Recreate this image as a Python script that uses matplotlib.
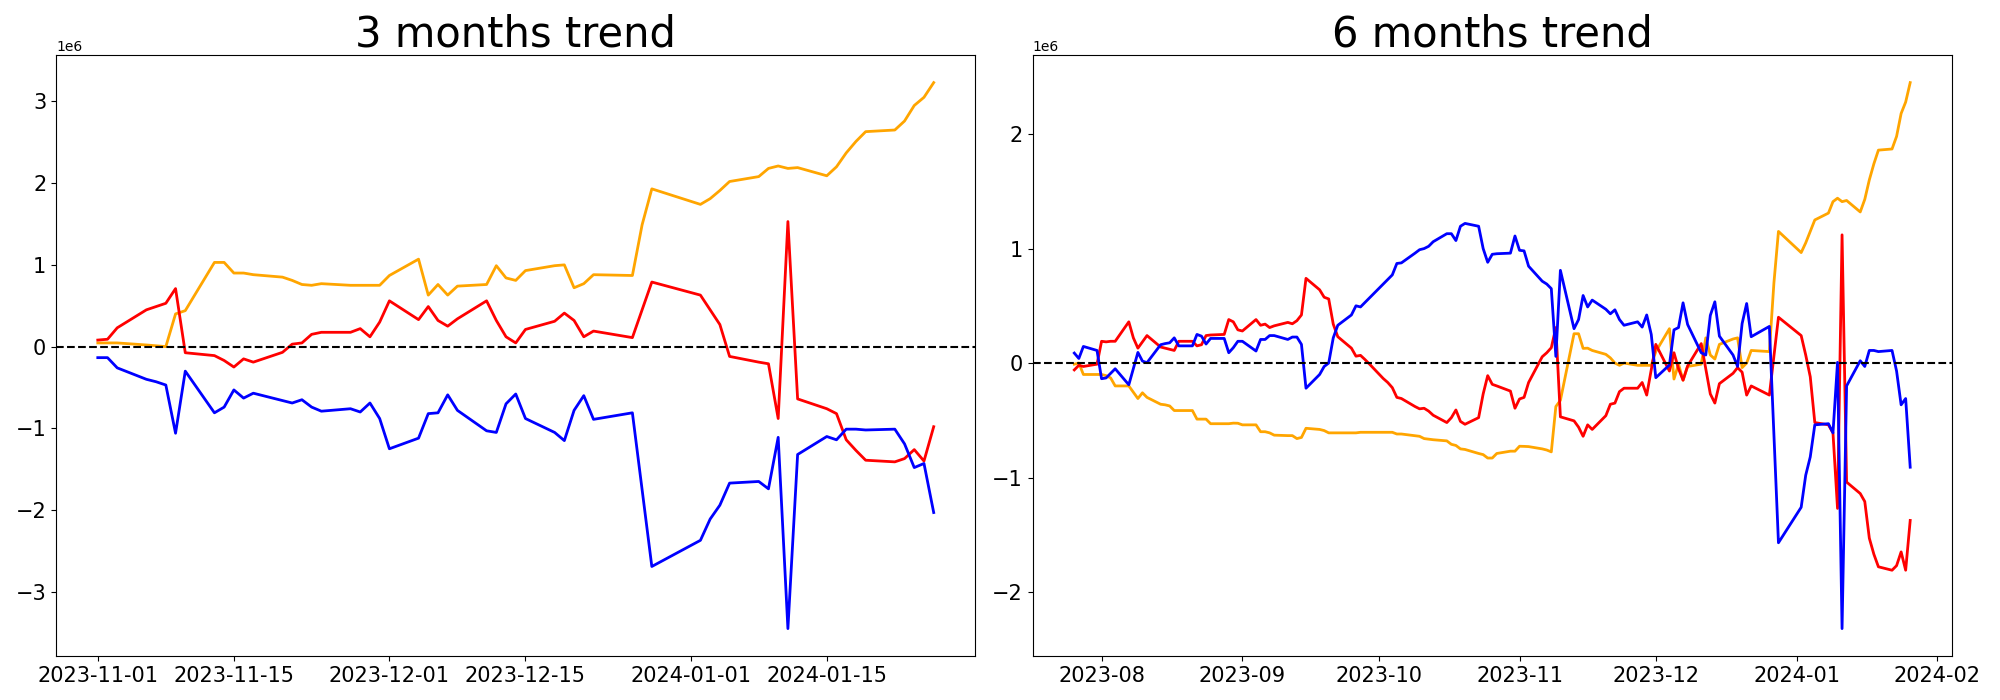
import matplotlib
matplotlib.use("Agg")
import matplotlib.pyplot as plt
import matplotlib.dates as mdates
import pandas as pd

# ---------------- data ----------------
holidays = ["2023-12-25", "2023-12-29", "2024-01-01"]

# 3 months (left)
left_start, left_end = "2023-11-01", "2024-01-26"
left_orange = [0.045, 0.045, 0.045, 0.02, 0.01, 0.0, 0.40, 0.44, 1.03, 1.03, 0.90, 0.90, 0.88,
               0.85, 0.81, 0.76, 0.75, 0.77, 0.75, 0.75, 0.75, 0.75, 0.87, 1.07, 0.63, 0.76, 0.63, 0.74,
               0.76, 0.99, 0.84, 0.81, 0.93, 0.99, 1.00, 0.72, 0.77, 0.88, 0.87, 1.49, 1.93,
               1.74, 1.81, 1.91, 2.02, 2.08, 2.18, 2.21, 2.18, 2.19, 2.09, 2.20, 2.37, 2.51, 2.63,
               2.65, 2.76, 2.95, 3.05, 3.23]
left_red = [0.08, 0.09, 0.23, 0.45, 0.49, 0.53, 0.71, -0.075, -0.11, -0.17, -0.25, -0.15, -0.19,
            -0.07, 0.03, 0.045, 0.15, 0.175, 0.175, 0.22, 0.12, 0.30, 0.56, 0.33, 0.49, 0.32, 0.25, 0.34,
            0.56, 0.32, 0.12, 0.045, 0.21, 0.31, 0.41, 0.32, 0.12, 0.19, 0.11, 0.45, 0.79,
            0.63, 0.45, 0.27, -0.12, -0.19, -0.21, -0.88, 1.53, -0.64, -0.76, -0.82, -1.14, -1.27, -1.39,
            -1.41, -1.37, -1.26, -1.40, -0.98]
left_blue = [-0.135, -0.135, -0.26, -0.40, -0.43, -0.47, -1.06, -0.30, -0.81, -0.74, -0.53, -0.63, -0.57,
             -0.66, -0.69, -0.65, -0.74, -0.79, -0.76, -0.80, -0.69, -0.88, -1.25, -1.12, -0.82, -0.81, -0.59, -0.78,
             -1.03, -1.05, -0.70, -0.58, -0.88, -1.05, -1.15, -0.78, -0.60, -0.89, -0.81, -1.75, -2.69,
             -2.37, -2.11, -1.94, -1.67, -1.65, -1.74, -1.11, -3.45, -1.32, -1.10, -1.14, -1.01, -1.01, -1.02,
             -1.01, -1.19, -1.48, -1.43, -2.03]

# 6 months (right)
right_start, right_end = "2023-07-26", "2024-01-26"
right_orange = [-0.01, 0.0, -0.10, -0.10,
                -0.10, -0.11, -0.13, -0.20,
                -0.20, -0.255, -0.31, -0.26, -0.30,
                -0.36, -0.365, -0.375, -0.415, -0.415,
                -0.415, -0.49, -0.49, -0.49, -0.53,
                -0.53, -0.53, -0.525, -0.526, -0.54,
                -0.54, -0.60, -0.60, -0.61, -0.63,
                -0.634, -0.634, -0.66, -0.65, -0.57,
                -0.58, -0.59, -0.61, -0.61, -0.61,
                -0.61, -0.61, -0.605, -0.605, -0.605,
                -0.605, -0.605, -0.605, -0.62, -0.62,
                -0.635, -0.64, -0.66, -0.665, -0.67,
                -0.68, -0.71, -0.72, -0.75, -0.755,
                -0.79, -0.80, -0.83, -0.83, -0.79,
                -0.77, -0.77, -0.727, -0.728, -0.73,
                -0.75, -0.76, -0.776, -0.38, -0.326,
                0.256, 0.256, 0.128, 0.13, 0.11,
                0.076, 0.045, 0.0, -0.02, 0.0,
                -0.02, -0.02, -0.02, -0.02, 0.10,
                0.30, -0.14, -0.01, -0.15, -0.03,
                -0.01, 0.22, 0.07, 0.035, 0.163,
                0.21, 0.22, -0.04, 0.0, 0.11,
                0.10, 0.70, 1.15,
                0.965, 1.05, 1.15, 1.25,
                1.31, 1.41, 1.44, 1.41, 1.42,
                1.32, 1.43, 1.60, 1.74, 1.86,
                1.87, 1.98, 2.18, 2.28, 2.45]
right_red = [-0.06, -0.02, -0.03, -0.01,
             0.19, 0.185, 0.19, 0.19,
             0.36, 0.22, 0.13, 0.185, 0.24,
             0.14, 0.13, 0.12, 0.11, 0.19,
             0.19, 0.15, 0.16, 0.24, 0.245,
             0.25, 0.38, 0.36, 0.29, 0.28,
             0.38, 0.33, 0.34, 0.31, 0.325,
             0.355, 0.343, 0.37, 0.42, 0.74,
             0.64, 0.575, 0.56, 0.34, 0.23,
             0.13, 0.06, 0.067, 0.03, -0.01,
             -0.135, -0.17, -0.215, -0.30, -0.31,
             -0.38, -0.40, -0.395, -0.42, -0.456,
             -0.52, -0.477, -0.41, -0.51, -0.535,
             -0.477, -0.27, -0.11, -0.186, -0.20,
             -0.245, -0.395, -0.314, -0.30, -0.17,
             0.055, 0.09, 0.134, 0.31, -0.47,
             -0.505, -0.56, -0.64, -0.54, -0.58,
             -0.46, -0.36, -0.35, -0.25, -0.22,
             -0.22, -0.17, -0.28, -0.06, 0.163,
             -0.07, 0.09, -0.05, -0.15, -0.026,
             0.17, -0.05, -0.27, -0.35, -0.18,
             -0.09, -0.04, -0.08, -0.28, -0.20,
             -0.28, 0.06, 0.40,
             0.24, 0.07, -0.12, -0.52,
             -0.54, -0.61, -1.27, 1.12, -1.04,
             -1.14, -1.21, -1.53, -1.67, -1.78,
             -1.81, -1.77, -1.65, -1.81, -1.375]
right_blue = [0.087, 0.04, 0.145, 0.11,
              -0.137, -0.13, -0.09, -0.05,
              -0.19, -0.05, 0.093, 0.017, 0.003,
              0.16, 0.17, 0.177, 0.22, 0.15,
              0.15, 0.25, 0.235, 0.166, 0.215,
              0.215, 0.09, 0.134, 0.19, 0.19,
              0.105, 0.206, 0.206, 0.24, 0.24,
              0.206, 0.227, 0.227, 0.163, -0.22,
              -0.10, -0.03, 0.0, 0.22, 0.33,
              0.42, 0.50, 0.49, 0.53, 0.57,
              0.69, 0.73, 0.77, 0.87, 0.875,
              0.96, 0.99, 1.0, 1.02, 1.06,
              1.13, 1.13, 1.07, 1.195, 1.22,
              1.195, 1.0, 0.88, 0.95, 0.955,
              0.96, 1.11, 0.985, 0.98, 0.846,
              0.715, 0.69, 0.65, 0.058, 0.81,
              0.30, 0.38, 0.59, 0.49, 0.55,
              0.47, 0.43, 0.465, 0.38, 0.33,
              0.36, 0.314, 0.42, 0.25, -0.128,
              -0.017, 0.29, 0.31, 0.526, 0.337,
              0.09, 0.07, 0.416, 0.535, 0.235,
              0.07, -0.03, 0.345, 0.52, 0.23,
              0.32, -0.62, -1.57,
              -1.26, -0.98, -0.82, -0.54,
              -0.53, -0.61, 0.006, -2.32, -0.20,
              0.02, -0.03, 0.11, 0.11, 0.10,
              0.11, -0.07, -0.365, -0.31, -0.91]

titles = ["3 months trend", "6 months trend"]
colors = ["orange", "red", "blue"]
scale = 1e6


def trading_days(start, end):
    d = pd.bdate_range(start, end)
    return d[~d.isin(pd.to_datetime(holidays))]


left_dates = trading_days(left_start, left_end)
right_dates = trading_days(right_start, right_end)

panels = [
    (left_dates, [left_orange, left_red, left_blue]),
    (right_dates, [right_orange, right_red, right_blue]),
]

fig, axes = plt.subplots(1, 2, figsize=(20, 7), dpi=100)
fig.subplots_adjust(left=0.028, right=0.976, bottom=0.063, top=0.921, wspace=0.062)

for ax, (dates, series), title in zip(axes, panels, titles):
    for vals, c in zip(series, colors):
        assert len(vals) == len(dates), (title, len(vals), len(dates))
        ax.plot(dates, [v * scale for v in vals], color=c, linewidth=2)
    ax.axhline(0, color="black", linestyle="--", linewidth=1.5)
    ax.set_title(title, fontsize=30)
    ax.tick_params(labelsize=15)

axes[0].xaxis.set_major_locator(mdates.DayLocator(bymonthday=[1, 15]))
axes[0].xaxis.set_major_formatter(mdates.DateFormatter("%Y-%m-%d"))
axes[1].xaxis.set_major_locator(mdates.MonthLocator())
axes[1].xaxis.set_major_formatter(mdates.DateFormatter("%Y-%m"))

fig.savefig("out.png", dpi=100)
